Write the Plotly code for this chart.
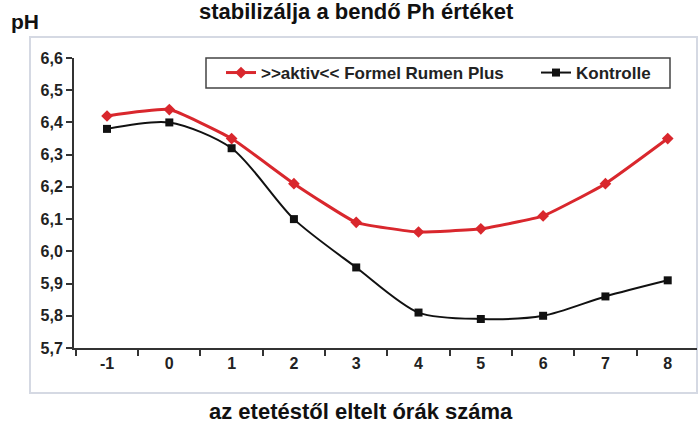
import plotly.graph_objects as go

hours = ["-1", "0", "1", "2", "3", "4", "5", "6", "7", "8"]
aktiv = [6.42, 6.44, 6.35, 6.21, 6.09, 6.06, 6.07, 6.11, 6.21, 6.35]
kontrolle = [6.38, 6.40, 6.32, 6.10, 5.95, 5.81, 5.79, 5.80, 5.86, 5.91]
y_ticks = [5.7, 5.8, 5.9, 6.0, 6.1, 6.2, 6.3, 6.4, 6.5, 6.6]
y_ticktext = ["5,7", "5,8", "5,9", "6,0", "6,1", "6,2", "6,3", "6,4", "6,5", "6,6"]

W, H = 698, 427
L, R, T, B = 74, 697, 58, 348
PW, PH = R - L, B - T

def px(x):
    return (x - L) / PW

def py(y):
    return (B - y) / PH

FONT = "Liberation Sans, Arial, sans-serif"
LEGFONT = dict(family=FONT, size=17, weight="bold", color="#222222")

fig = go.Figure()
fig.add_trace(go.Scatter(
    x=hours, y=aktiv, name=">>aktiv<< Formel Rumen Plus",
    mode="lines+markers", legend="legend",
    line=dict(color="#d9272d", width=3, shape="spline", smoothing=0.4),
    marker=dict(symbol="diamond", size=9, color="#d9272d"),
))
fig.add_trace(go.Scatter(
    x=hours, y=kontrolle, name="Kontrolle",
    mode="lines+markers", legend="legend2",
    line=dict(color="#111111", width=2, shape="spline", smoothing=0.8),
    marker=dict(symbol="square", size=8, color="#111111"),
))

fig.update_layout(
    width=W, height=H,
    margin=dict(l=L, r=W - R, t=T, b=H - B, pad=0),
    paper_bgcolor="white", plot_bgcolor="white",
    font=dict(family=FONT, color="#222222"),
    showlegend=True,
    legend=dict(
        orientation="h", x=px(221), y=py(73), xanchor="left", yanchor="middle",
        bgcolor="rgba(0,0,0,0)", borderwidth=0, font=LEGFONT,
    ),
    legend2=dict(
        orientation="h", x=px(536), y=py(73), xanchor="left", yanchor="middle",
        bgcolor="rgba(0,0,0,0)", borderwidth=0, font=LEGFONT,
    ),
    xaxis=dict(
        type="category", range=[-0.53, 9.47],
        tickson="boundaries", ticks="outside", ticklen=6, tickwidth=2, tickcolor="#333333",
        showline=True, linecolor="#333333", linewidth=2,
        showgrid=False, zeroline=False,
        tickfont=dict(family=FONT, size=16, weight="bold", color="#222222"),
    ),
    yaxis=dict(
        range=[5.7, 6.6], tickvals=y_ticks, ticktext=y_ticktext,
        ticks="outside", ticklen=6, tickwidth=2, tickcolor="#333333",
        showline=True, linecolor="#333333", linewidth=2,
        showgrid=False, zeroline=False,
        tickfont=dict(family=FONT, size=16, weight="bold", color="#222222"),
    ),
    shapes=[
        dict(type="rect", xref="paper", yref="paper",
             x0=px(30), x1=px(697), y0=py(393), y1=py(37),
             line=dict(color="#d5d9e3", width=2), layer="below"),
        dict(type="rect", xref="paper", yref="paper",
             x0=px(206), x1=px(670), y0=py(88), y1=py(58),
             line=dict(color="#444444", width=1.5)),
    ],
    annotations=[
        dict(text="stabilizálja a bendő Ph értéket", xref="paper", yref="paper",
             x=px(356), y=py(11), xanchor="center", yanchor="middle", showarrow=False,
             font=dict(family=FONT, size=22, weight="bold", color="#111111")),
        dict(text="pH", xref="paper", yref="paper",
             x=px(9), y=py(22), xanchor="left", yanchor="middle", showarrow=False,
             font=dict(family=FONT, size=21, weight="bold", color="#111111")),
        dict(text="az etetéstől eltelt órák száma", xref="paper", yref="paper",
             x=px(361), y=py(411), xanchor="center", yanchor="middle", showarrow=False,
             font=dict(family=FONT, size=22, weight="bold", color="#111111")),
    ],
)

fig.write_html("out.html", config={"displayModeBar": False},
               post_script="document.body.style.margin='0';document.body.style.overflow='hidden';")
